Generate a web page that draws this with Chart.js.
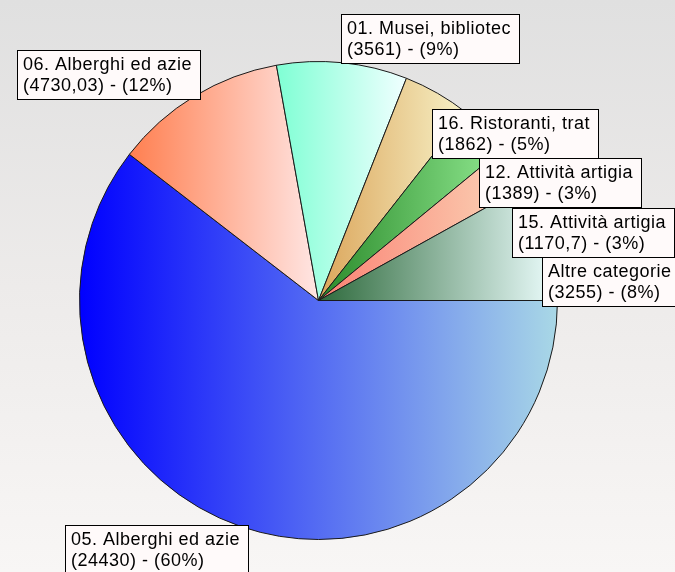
<!DOCTYPE html>
<html>
<head>
<meta charset="utf-8">
<script src="https://cdn.jsdelivr.net/npm/chart.js@4"></script>
<style>
  html, body { margin: 0; padding: 0; }
  body { width: 675px; height: 572px; overflow: hidden; }
  #wrap { position: relative; width: 675px; height: 572px; }
</style>
</head>
<body>
<div id="wrap"><canvas id="pie" width="675" height="572"></canvas></div>
<script>
// data, clockwise from 3 o'clock
var categories = [
    "05. Alberghi ed azie",
    "06. Alberghi ed azie",
    "01. Musei, bibliotec",
    "16. Ristoranti, trat",
    "12. Attività artigia",
    "15. Attività artigia",
    "Altre categorie"
];
var values = [24430, 4730.03, 3561, 1862, 1389, 1170.7, 3255];

// gradient colours per slice, left -> right
var colorsLeft  = ["#0000ff", "#ff7f50", "#7fffd4", "#dba55a", "#2a8a2a", "#fa8072", "#2e6a3c"];
var colorsRight = ["#a9d8e6", "#ffe6e4", "#f0ffff", "#f7f2c8", "#90e890", "#fbd9bb", "#ecfdfd"];

// label box nudges (px) from the anchor corner
var labelNudge = [[5, 2], [3, -1], [-1, -4], [-4, 61], [-4, 74], [-1, 89], [-4, 64]];

var total = values.reduce(function(a, b){ return a + b; }, 0);

var labelFont = "18px 'Liberation Sans', Arial, sans-serif";

var backgroundPlugin = {
    id: "bg",
    beforeDraw: function(chart){
        var ctx = chart.ctx;
        var g = ctx.createLinearGradient(0, 0, 0, chart.height);
        g.addColorStop(0, "#e0e0e0");
        g.addColorStop(0.5, "#edebea");
        g.addColorStop(1, "#f8f6f5");
        ctx.save();
        ctx.fillStyle = g;
        ctx.fillRect(0, 0, chart.width, chart.height);
        ctx.restore();
    }
};

// horizontal gradient across each slice's own bounding box
var sliceGradientPlugin = {
    id: "sliceGradient",
    beforeDatasetsDraw: function(chart){
        var ctx = chart.ctx;
        var meta = chart.getDatasetMeta(0);
        meta.data.forEach(function(arc, i){
            var r = arc.outerRadius;
            var a0 = arc.startAngle, a1 = arc.endAngle;
            var xs = [arc.x, arc.x + Math.cos(a0) * r, arc.x + Math.cos(a1) * r];
            // include axis extremes inside the arc
            for (var k = -4; k <= 8; k++){
                var t = k * Math.PI / 2;
                if (t > a0 && t < a1) xs.push(arc.x + Math.cos(t) * r);
            }
            var minX = Math.min.apply(null, xs), maxX = Math.max.apply(null, xs);
            var g = ctx.createLinearGradient(minX, 0, maxX, 0);
            g.addColorStop(0, colorsLeft[i]);
            g.addColorStop(1, colorsRight[i]);
            arc.options.backgroundColor = g;
        });
    }
};

var format_value = function( v ){
    return String(v).replace(".", ",");
};

var labelsPlugin = {
    id: "boxLabels",
    afterDatasetsDraw: function(chart){
        var ctx = chart.ctx;
        var meta = chart.getDatasetMeta(0);
        ctx.save();
        ctx.font = labelFont;
        if ("letterSpacing" in ctx) ctx.letterSpacing = "0.5px";
        meta.data.forEach(function(arc, i){
            var line1 = categories[i];
            var line2 = "(" + format_value(values[i]) + ") - (" + Math.round(values[i] / total * 100) + "%)";
            var w = Math.round(Math.max(ctx.measureText(line1).width, ctx.measureText(line2).width) + 14);
            var h = 49;
            var mid = (arc.startAngle + arc.endAngle) / 2;
            var R = arc.outerRadius - 4;
            var ax = arc.x + Math.cos(mid) * R;
            var ay = arc.y + Math.sin(mid) * R;
            var left = Math.cos(mid) >= 0 ? ax : ax - w;
            var top = Math.sin(mid) < 0 ? ay - h : ay;
            left = Math.round(left + labelNudge[i][0]) + 0.5;
            top = Math.round(top + labelNudge[i][1]) + 0.5;
            ctx.fillStyle = "#fffafa";
            ctx.strokeStyle = "#000000";
            ctx.lineWidth = 1;
            ctx.fillRect(left, top, w, h);
            ctx.strokeRect(left, top, w, h);
            ctx.fillStyle = "#000000";
            ctx.textBaseline = "alphabetic";
            ctx.fillText(line1, left + 5.5, top + 19.5);
            ctx.fillText(line2, left + 5.5, top + 40.5);
        });
        ctx.restore();
    }
};

var ctx = document.getElementById("pie").getContext("2d");
var chart = new Chart(ctx, {
    type: "pie",
    data: {
        labels: categories,
        datasets: [{
            data: values,
            backgroundColor: colorsLeft,
            borderColor: "#1a1a1a",
            borderWidth: 1
        }]
    },
    options: {
        responsive: false,
        animation: false,
        rotation: 90,
        layout: {
            padding: { left: 79, right: 117, top: 61, bottom: 32 }
        },
        plugins: {
            legend: { display: false },
            tooltip: { enabled: false }
        }
    },
    plugins: [backgroundPlugin, sliceGradientPlugin, labelsPlugin]
});
</script>
</body>
</html>
